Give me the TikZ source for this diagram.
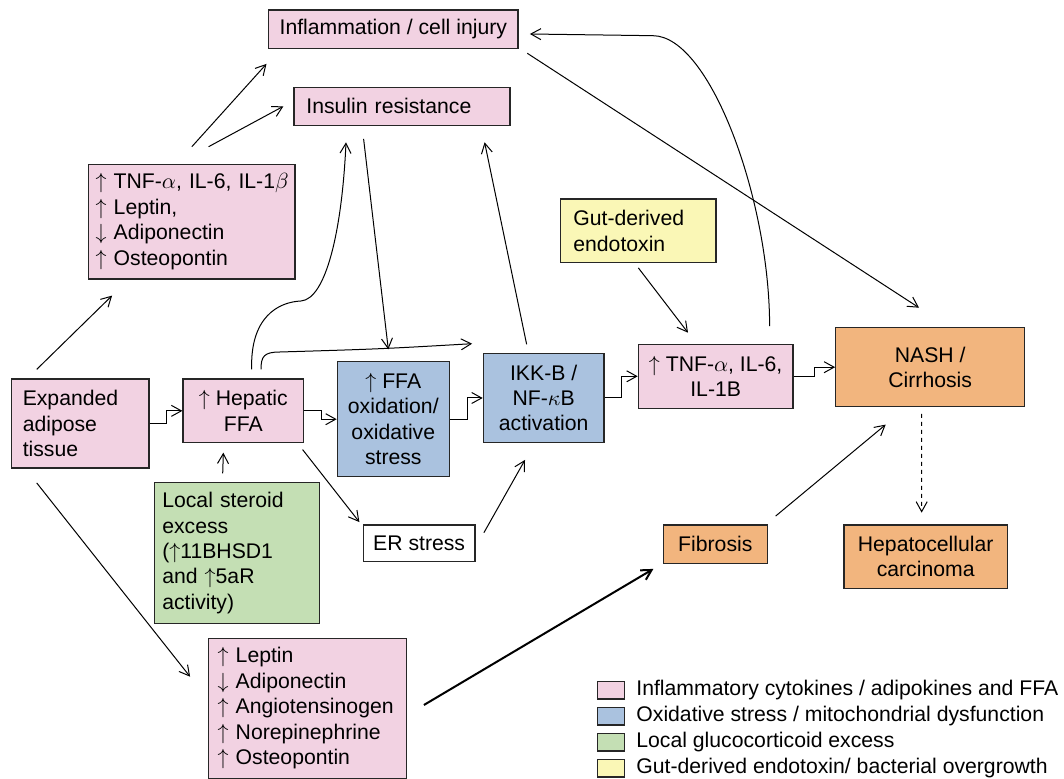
\documentclass[tikz,border=0pt]{standalone}
\usepackage{fontspec}
\setmainfont{Liberation Sans}
\usetikzlibrary{arrows.meta}

\definecolor{pinkfill}{RGB}{242,210,226}
\definecolor{bluefill}{RGB}{170,194,223}
\definecolor{greenfill}{RGB}{196,223,180}
\definecolor{yellowfill}{RGB}{250,247,182}
\definecolor{orangefill}{RGB}{242,181,126}

\newcommand{\uparr}{$\uparrow$}
\newcommand{\dnarr}{$\downarrow$}

\tikzset{
  box/.style={draw=black!85, line width=0.6pt, inner sep=0pt, align=center,
              font=\fontsize{10.6}{12.7}\selectfont},
  pinkbox/.style={box, fill=pinkfill},
  bluebox/.style={box, fill=bluefill},
  greenbox/.style={box, fill=greenfill},
  yellowbox/.style={box, fill=yellowfill},
  orangebox/.style={box, fill=orangefill},
  whitebox/.style={box, fill=white},
  link/.style={line width=0.5pt, -{Straight Barb[length=5pt,width=5.5pt]}},
  legbox/.style={draw=black!85, line width=0.6pt, inner sep=0pt,
                 minimum width=13.3pt, minimum height=8.7pt},
  legtxt/.style={inner sep=0pt, anchor=west, font=\fontsize{10.6}{12.7}\selectfont}
}

\begin{document}
\begin{tikzpicture}[x=0.5pt, y=-0.5pt]
    \fill[white] (0,0) rectangle (1064,779);
    \useasboundingbox (0,0) rectangle (1064,779);

    \node[pinkbox, minimum width=124.7pt, minimum height=19.15pt] (infl) at (393.3,29.15) {Inflammation / cell injury};
    \node[pinkbox, minimum width=108pt, minimum height=19pt, text width=95.6pt, align=left] (insr) at (402,106.3) {Insulin resistance};
    \node[pinkbox, minimum width=103.15pt, minimum height=57.35pt, text width=96.15pt, align=left] (tnfL) at (191.85,221.65)
      {\mbox{\uparr{} TNF-$\alpha$, IL-6, IL-1$\beta$}\\ \uparr{} Leptin,\\ \dnarr{} Adiponectin\\ \uparr{} Osteopontin};
    \node[pinkbox, minimum width=68.85pt, minimum height=44.5pt, text width=57.4pt, align=left] (adip) at (80.15,423.5) {Expanded\\adipose\\tissue};
    \node[pinkbox, minimum width=60.35pt, minimum height=31.85pt] (hep) at (243.35,410.85) {\uparr{} Hepatic\\FFA};
    \node[bluebox, minimum width=56pt, minimum height=57.5pt] (ffaox) at (393.3,419.2) {\uparr{} FFA\\oxidation/\\oxidative\\stress};
    \node[bluebox, minimum width=60.35pt, minimum height=44.7pt] (ikk) at (543.65,398) {IKK-B /\\NF-$\kappa$B\\activation};
    \node[pinkbox, minimum width=77.35pt, minimum height=32pt] (tnfR) at (715.65,376.3) {\uparr{} TNF-$\alpha$, IL-6,\\IL-1B};
    \node[orangebox, minimum width=94.5pt, minimum height=39.5pt] (nash) at (930.2,367.2) {NASH /\\Cirrhosis};
    \node[yellowbox, minimum width=77.65pt, minimum height=31.85pt, text width=65pt, align=left] (gut) at (638.35,230.85) {Gut-derived\\endotoxin};
    \node[whitebox, minimum width=55.85pt, minimum height=18.35pt] (er) at (419.15,543.35) {ER stress};
    \node[greenbox, minimum width=82.5pt, minimum height=70.3pt, text width=74.5pt, align=left] (ster) at (236.8,553)
      {Local steroid\\excess\\(\uparr11BHSD1\\and \uparr5aR\\activity)};
    \node[orangebox, minimum width=52pt, minimum height=19.15pt] (fib) at (715.3,544.15) {Fibrosis};
    \node[orangebox, minimum width=81.65pt, minimum height=31.65pt] (hcc) at (925.65,556.65) {Hepatocellular\\carcinoma};
    \node[pinkbox, minimum width=99pt, minimum height=70pt, text width=90pt, align=left] (adipo) at (307.7,708.3)
      {\uparr{} Leptin\\ \dnarr{} Adiponectin\\ \uparr{} Angiotensinogen\\ \uparr{} Norepinephrine\\ \uparr{} Osteopontin};

    \coordinate (kink) at (301,301);
    \coordinate (bend) at (280,352);
    \coordinate (turn) at (653,35.7);

    \draw[link] ([shift={(26,-9)}]adip.north west) -- ([shift={(24,16)}]tnfL.south west);
    \draw[link] ([shift={(26,14.3)}]adip.south west) -- ([shift={(-18,39)}]adipo.north west);
    \draw[link] ([shift={(0,-17)}]tnfL.north) -- ([shift={(-1.5,15)}]infl.south west);
    \draw[link] ([shift={(16.75,-17)}]tnfL.north) -- ([shift={(-10,0)}]insr.west);
    \draw[link] (adip.east) -- ++(17,0) |- (hep.west);
    \draw[link] (hep.east) -- ++(17,0) |- (ffaox.west);
    \draw[link] (ffaox.east) -- ++(17.4,0) |- (ikk.west);
    \draw[link] (ikk.east) -- ++(17.3,0) |- (tnfR.west);
    \draw[link] (tnfR.east) -- ++(21,0) |- (nash.west);
    \draw[link] ([shift={(69,-8.7)}]ster.north west) -- ([shift={(-20,9.3)}]hep.south);
    \draw[link] ([shift={(-1.7,6.3)}]hep.south east) -- ([shift={(-3.3,-2.3)}]er.north west);
    \draw[link] ([shift={(8.3,8.3)}]er.north east) -- ([shift={(-18.65,16.6)}]ikk.south);
    \draw[link] ([shift={(-17,-8.3)}]ikk.north) -- ([shift={(-26,16.4)}]insr.south east);
    \draw[link] ([shift={(-38.4,13)}]insr.south) -- ([shift={(-5,-11.7)}]ffaox.north);
    \draw[link] ([shift={(8.35,-9)}]hep.north) .. controls +(-1.7,-52) and +(-23,1) .. (kink)
      .. controls +(25,-2) and +(-4,88.3) .. ([shift={(-56,16.4)}]insr.south);
    \draw[link] ([shift={(17.65,-9)}]hep.north) .. controls +(0,-13) and +(-16,0) .. (bend)
      .. controls +(100,-3) .. ([shift={(-10.6,-9)}]ikk.north west);
    \draw[link] ([shift={(0,4.6)}]gut.south) -- ([shift={(-27.65,-11)}]tnfR.north);
    \draw[link] ([shift={(-24,-17.6)}]tnfR.north east) .. controls +(0,-126.7) and +(57,0.3) .. (turn)
      -- ([shift={(11.3,4.85)}]infl.east);
    \draw[link] ([shift={(8.7,4.4)}]infl.south east) -- ([shift={(-11.2,-19.4)}]nash.north);
    \draw[link, dash pattern=on 2pt off 2pt] ([shift={(-8.5,6.6)}]nash.south) -- ([shift={(-4,-11.7)}]hcc.north);
    \draw[link] ([shift={(7.7,-8.3)}]fib.north east) -- ([shift={(-44.5,17.3)}]nash.south);
    \draw[link, line width=1pt] ([shift={(16.6,-3.3)}]adipo.east) -- ([shift={(-9.3,5)}]fib.south west);

    \foreach \col/\txt [count=\i] in {pinkfill/{Inflammatory cytokines / adipokines and FFA},
        bluefill/{Oxidative stress / mitochondrial dysfunction},
        greenfill/{Local glucocorticoid excess},
        yellowfill/{Gut-derived endotoxin/ bacterial overgrowth}}
    {
      \node[legbox, fill=\col] (legbox\i) at (611, 664.3+26*\i) {};
      \node[legtxt] (legtxt\i) at (636, 664.3+26*\i) {\txt};
    }
\end{tikzpicture}
\end{document}
